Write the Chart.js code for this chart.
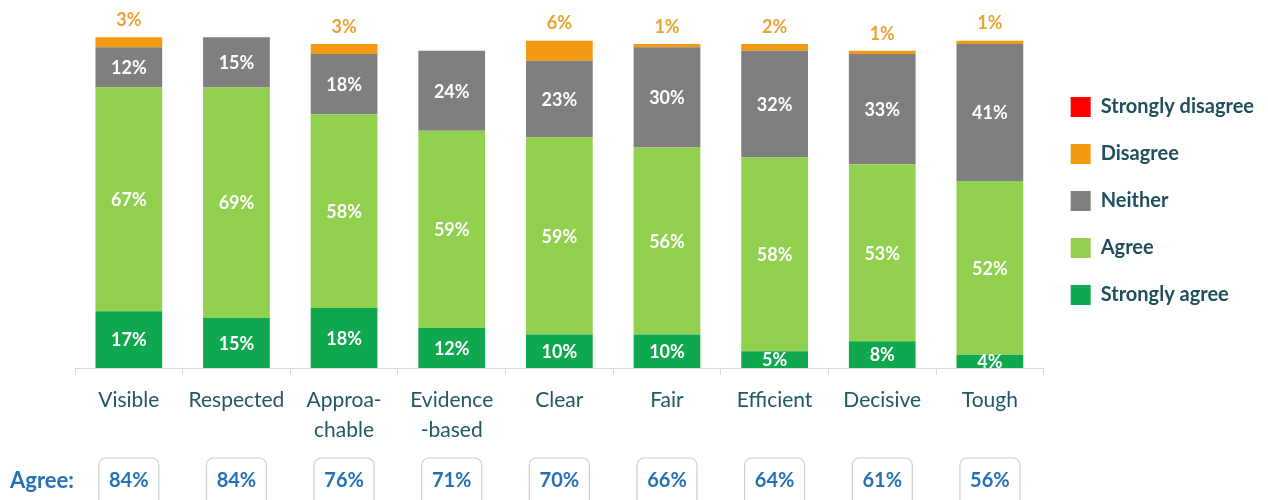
<!DOCTYPE html>
<html>
<head>
<meta charset="utf-8">
<script src="https://cdn.jsdelivr.net/npm/chart.js@4/dist/chart.umd.min.js"></script>
<style>
    html, body { margin: 0; padding: 0; background: #fff; }
    #wrap { width: 1268px; height: 500px; }
</style>
</head>
<body>
<div id="wrap"><canvas id="chart" width="1268" height="500"></canvas></div>
<script>
const categories = ["Visible", "Respected", ["Approa-", "chable"], ["Evidence", "-based"], "Clear", "Fair", "Efficient", "Decisive", "Tough"];
const stronglyAgree = [17, 15, 18, 12, 10, 10, 5, 8, 4];
const agree = [67, 69, 58, 59, 59, 56, 58, 53, 52];
const neither = [12, 15, 18, 24, 23, 30, 32, 33, 41];
const disagree = [3, 0, 3, 0, 6, 1, 2, 1, 1];
const stronglyDisagree = [0, 0, 0, 0, 0, 0, 0, 0, 0];
const agreeTotals = [84, 84, 76, 71, 70, 66, 64, 61, 56];

const FONT = "Lato, 'Open Sans', sans-serif";

// white labels inside segments, orange labels over the bars, and the "Agree:" row
const labelPlugin = {
    id: "labels",
    afterDatasetsDraw(chart) {
        const ctx = chart.ctx;
        ctx.save();
        ctx.textAlign = "center";
        ctx.textBaseline = "middle";
        ctx.font = `bold 18px ${FONT}`;
        chart.data.datasets.forEach((ds, di) => {
            const meta = chart.getDatasetMeta(di);
            meta.data.forEach((bar, i) => {
                const v = ds.data[i];
                if (!v) return;
                if (di <= 2) {
                    ctx.fillStyle = "#ffffff";
                    ctx.fillText(`${v}%`, bar.x, (bar.y + bar.base) / 2 + 1);
                } else if (di === 3) {
                    ctx.fillStyle = "#e8a236";
                    ctx.fillText(`${v}%`, bar.x, bar.y - 17);
                }
            });
        });
        ctx.restore();
    },
    afterDraw(chart) {
        const ctx = chart.ctx;
        const x = chart.scales.x;
        ctx.save();
        ctx.font = `bold 22px ${FONT}`;
        ctx.fillStyle = "#2472b8";
        ctx.textBaseline = "middle";
        ctx.textAlign = "left";
        ctx.fillText("Agree:", 10, 481);
        agreeTotals.forEach((v, i) => {
            const cx = x.getPixelForValue(i);
            ctx.beginPath();
            ctx.roundRect(cx - 30, 458, 60, 52, 7);
            ctx.fillStyle = "#ffffff";
            ctx.fill();
            ctx.lineWidth = 1.2;
            ctx.strokeStyle = "#c5d0d8";
            ctx.stroke();
            ctx.font = `bold 20px ${FONT}`;
            ctx.fillStyle = "#2372b6";
            ctx.textAlign = "center";
            ctx.fillText(`${v}%`, cx, 481);
        });
        ctx.restore();
    }
};

new Chart(document.getElementById("chart"), {
    type: "bar",
    data: {
        labels: categories,
        datasets: [
            { label: "Strongly agree", data: stronglyAgree, backgroundColor: "#10a84e" },
            { label: "Agree", data: agree, backgroundColor: "#92d050" },
            { label: "Neither", data: neither, backgroundColor: "#7f7f7f" },
            { label: "Disagree", data: disagree, backgroundColor: "#f39a12" },
            { label: "Strongly disagree", data: stronglyDisagree, backgroundColor: "#ff0000" }
        ]
    },
    options: {
        responsive: false,
        animation: false,
        devicePixelRatio: 1,
        layout: { padding: { top: 34, left: 75, right: 4, bottom: 0 } },
        datasets: { bar: { categoryPercentage: 1, barPercentage: 0.62, borderWidth: 0 } },
        scales: {
            x: {
                stacked: true,
                grid: { drawOnChartArea: false, drawTicks: true, tickLength: 7, color: "#d9d9d9" },
                border: { display: true, color: "#d9d9d9" },
                ticks: { color: "#215866", padding: 10, maxRotation: 0, autoSkip: false, font: { family: FONT, size: 21, lineHeight: 1.43 } },
                afterFit: (scale) => { scale.height = 132; }
            },
            y: { stacked: true, display: false, min: 0, max: 100 }
        },
        plugins: {
            tooltip: { enabled: false },
            legend: {
                position: "right",
                fullSize: false,
                reverse: true,
                labels: { boxWidth: 20, boxHeight: 20, padding: 27, color: "#1f4e5c", font: { family: FONT, size: 20, weight: "bold" } }
            }
        }
    },
    plugins: [labelPlugin]
});
</script>
</body>
</html>
